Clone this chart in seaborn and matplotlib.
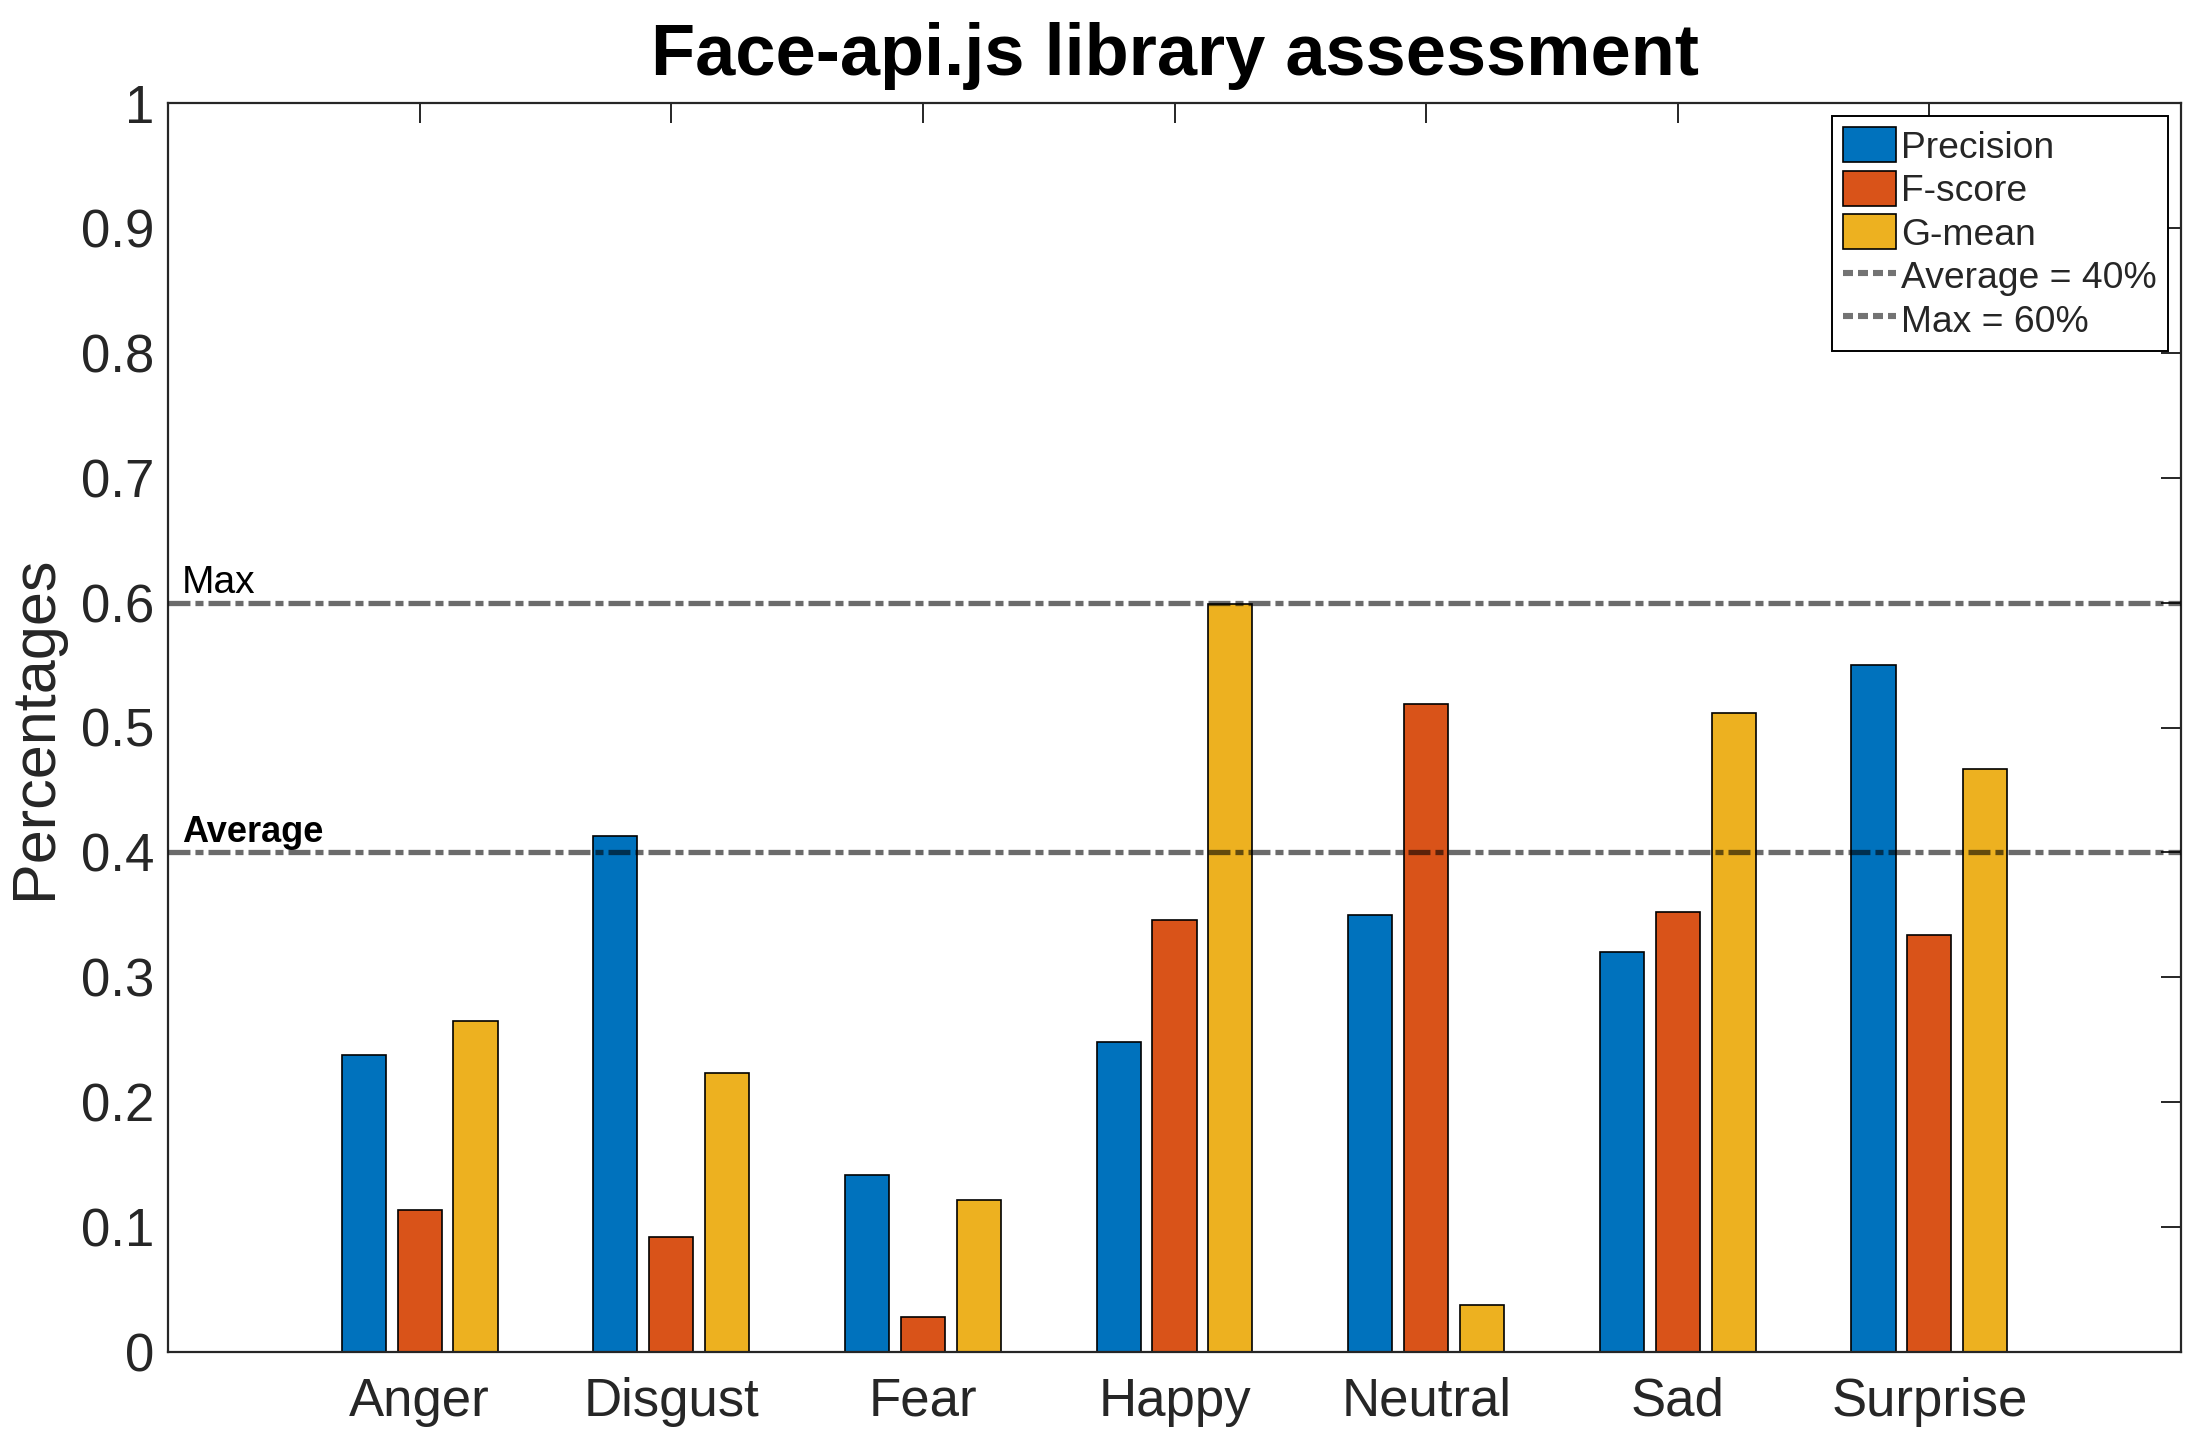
import numpy as np
import pandas as pd
import seaborn as sns
import matplotlib.pyplot as plt
from matplotlib.patches import Patch
from matplotlib.lines import Line2D

# values
emotions = ["Anger", "Disgust", "Fear", "Happy", "Neutral", "Sad", "Surprise"]
precision = [0.238, 0.413, 0.142, 0.248, 0.350, 0.320, 0.550]
f_score = [0.114, 0.092, 0.028, 0.346, 0.519, 0.352, 0.334]
g_mean = [0.265, 0.223, 0.122, 0.599, 0.038, 0.512, 0.467]
metrics = ["Precision", "F-score", "G-mean"]
avg_value = 0.4
max_value = 0.6
y_ticks = [0, 0.1, 0.2, 0.3, 0.4, 0.5, 0.6, 0.7, 0.8, 0.9, 1]
y_tick_labels = ["0", "0.1", "0.2", "0.3", "0.4", "0.5", "0.6", "0.7", "0.8", "0.9", "1"]

colors = ["#0072BD", "#D95319", "#EDB120"]

df = pd.DataFrame({"Emotion": emotions, "Precision": precision,
                   "F-score": f_score, "G-mean": g_mean})
df_long = df.melt(id_vars="Emotion", var_name="Metric", value_name="Value")

sns.set_style("white")
plt.rcParams["font.family"] = ["Liberation Sans", "DejaVu Sans"]
plt.rcParams["lines.scale_dashes"] = False

fig = plt.figure(figsize=(11.02, 7.275), dpi=200)
ax = fig.add_axes([0.0762, 0.0708, 0.9134, 0.8584])

sns.barplot(data=df_long, x="Emotion", y="Value", hue="Metric", hue_order=metrics,
            palette=colors, width=0.6667, gap=0.2125, edgecolor="black",
            linewidth=0.6, saturation=1, legend=False, ax=ax, zorder=2)

# reference lines (dash-dot, semi transparent over the bars)
dash = (0, (7.9, 1.8, 2.9, 1.8))
ax.axhline(avg_value, color="black", alpha=0.58, lw=1.9, ls=dash, zorder=3)
ax.axhline(max_value, color="black", alpha=0.58, lw=1.9, ls=dash, zorder=3)
ax.text(-0.945, max_value + 0.008, "Max", fontsize=14, color="black",
        va="baseline", ha="left")
ax.text(-0.945, avg_value + 0.008, "Average", fontsize=13, fontweight="bold",
        color="black", va="baseline", ha="left")

ax.set_xlim(-1, 7)
ax.set_ylim(0, 1)
ax.set_yticks(y_ticks)
ax.set_yticklabels(y_tick_labels)
ax.tick_params(axis="both", direction="in", length=7.2, width=0.7,
               top=True, right=True, labelsize=19, colors="#262626")
ax.tick_params(axis="x", pad=9)
ax.tick_params(axis="y", pad=5)
for s in ax.spines.values():
    s.set_color("#262626")
    s.set_linewidth(0.8)

ax.set_xlabel("")
ax.set_ylabel("Percentages", fontsize=22, color="#262626", labelpad=6)
ax.set_title("Face-api.js library assessment", fontsize=26, fontweight="bold",
             color="black", pad=10)

handles = [Patch(facecolor=c, edgecolor="black", linewidth=0.6) for c in colors]
handles += [Line2D([], [], color="black", alpha=0.55, lw=2.2, ls=(0, (3.6, 1.8))),
            Line2D([], [], color="black", alpha=0.55, lw=2.2, ls=(0, (3.6, 1.8)))]
labels = metrics + [f"Average = {avg_value:.0%}", f"Max = {max_value:.0%}"]
leg = ax.legend(handles, labels, loc="upper right", fontsize=13.4,
                frameon=True, fancybox=False, framealpha=1,
                handlelength=1.42, handleheight=1.08, handletextpad=0.15,
                labelspacing=0.14, borderpad=0.3, borderaxespad=0.35)
leg.get_frame().set_edgecolor("black")
leg.get_frame().set_linewidth(0.7)

fig.savefig("out.png", dpi=200)
